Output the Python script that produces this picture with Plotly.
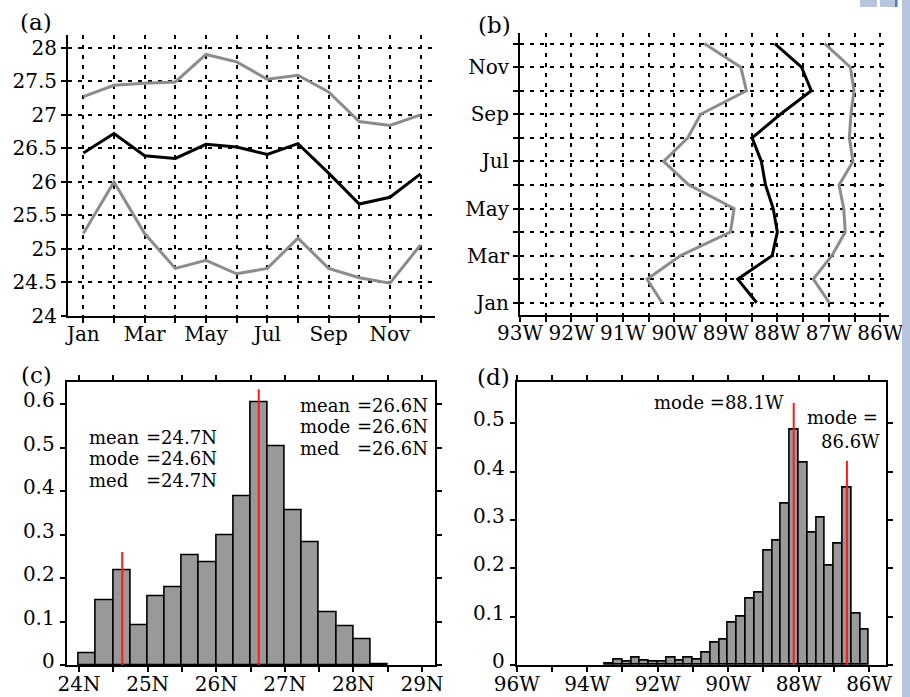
import plotly.graph_objects as go

W, H = 910, 697
FONT = "DejaVu Serif"

# ---------------- data ----------------
months = list(range(1, 13))
month_labels = ["Jan", "", "Mar", "", "May", "", "Jul", "", "Sep", "", "Nov", ""]

# (a) latitude (N) by month
a_upper = [27.27, 27.44, 27.47, 27.49, 27.90, 27.79, 27.53, 27.59, 27.34, 26.90, 26.84, 27.00]
a_mid = [26.43, 26.72, 26.39, 26.35, 26.56, 26.52, 26.41, 26.57, 26.13, 25.67, 25.77, 26.12]
a_lower = [25.23, 26.00, 25.23, 24.71, 24.83, 24.63, 24.71, 25.16, 24.71, 24.57, 24.49, 25.06]

# (b) longitude (W) by month
b_west = [90.24, 90.53, 89.88, 88.91, 88.84, 89.72, 90.21, 89.74, 89.49, 88.60, 88.71, 89.42]
b_mid = [88.40, 88.77, 88.10, 88.00, 88.08, 88.23, 88.31, 88.49, 87.94, 87.34, 87.53, 88.05]
b_east = [86.99, 87.30, 86.94, 86.68, 86.71, 86.80, 86.53, 86.60, 86.57, 86.51, 86.58, 87.08]

# (c) latitude histogram, bins of 0.25 deg starting at 24N
c_start, c_width = 24.0, 0.25
c_freq = [0.028, 0.149, 0.217, 0.092, 0.157, 0.178, 0.252, 0.235, 0.299, 0.389,
          0.604, 0.502, 0.356, 0.283, 0.122, 0.090, 0.060, 0.002]
c_modes = [24.63, 26.62]
c_mode_tops = [0.26, 0.634]

# (d) longitude histogram, bins of 0.25 deg starting at 93.5W going east
d_start, d_width = 93.5, 0.25
d_freq = [0.003, 0.012, 0.006, 0.0145, 0.008, 0.007, 0.006, 0.016, 0.009, 0.016,
          0.012, 0.026, 0.047, 0.052, 0.088, 0.099, 0.137, 0.150, 0.236, 0.257,
          0.333, 0.487, 0.419, 0.273, 0.304, 0.206, 0.250, 0.366, 0.106, 0.072]
d_modes = [88.14, 86.63]
d_mode_tops = [0.542, 0.422]

a_yticks = [24, 24.5, 25, 25.5, 26, 26.5, 27, 27.5, 28]
b_xticks = [93, 92.5, 92, 91.5, 91, 90.5, 90, 89.5, 89, 88.5, 88, 87.5, 87, 86.5, 86]
c_xticks = [24, 24.5, 25, 25.5, 26, 26.5, 27, 27.5, 28, 28.5, 29]
c_yticks = [0, 0.1, 0.2, 0.3, 0.4, 0.5, 0.6]
d_xticks = [96, 95, 94, 93, 92, 91, 90, 89, 88, 87, 86]
d_yticks = [0, 0.1, 0.2, 0.3, 0.4, 0.5]

GRAY = "#8c8c8c"
BAR = "#999999"


def fx(p):
    return p / W


def fy(p):
    return 1 - p / H


def fmt(v):
    return f"{v:g}"


fig = go.Figure()

# (a)
for ys, col in [(a_upper, GRAY), (a_mid, "black"), (a_lower, GRAY)]:
    fig.add_trace(go.Scatter(x=months, y=ys, mode="lines", line=dict(color=col, width=3),
                             xaxis="x", yaxis="y", showlegend=False))
# (b)
for xs, col in [(b_west, GRAY), (b_mid, "black"), (b_east, GRAY)]:
    fig.add_trace(go.Scatter(x=xs, y=months, mode="lines", line=dict(color=col, width=3),
                             xaxis="x2", yaxis="y2", showlegend=False))
# (c)
c_centers = [c_start + c_width * (i + 0.5) for i in range(len(c_freq))]
fig.add_trace(go.Bar(x=c_centers, y=c_freq, width=c_width,
                     marker=dict(color=BAR, line=dict(color="black", width=1.6)),
                     xaxis="x3", yaxis="y3", showlegend=False))
for m, t in zip(c_modes, c_mode_tops):
    fig.add_trace(go.Scatter(x=[m, m], y=[0, t], mode="lines", line=dict(color="#ff1a1a", width=2),
                             xaxis="x3", yaxis="y3", showlegend=False))
# (d)
d_centers = [d_start - d_width * (i + 0.5) for i in range(len(d_freq))]
fig.add_trace(go.Bar(x=d_centers, y=d_freq, width=d_width,
                     marker=dict(color=BAR, line=dict(color="black", width=1.6)),
                     xaxis="x4", yaxis="y4", showlegend=False))
for m, t in zip(d_modes, d_mode_tops):
    fig.add_trace(go.Scatter(x=[m, m], y=[0, t], mode="lines", line=dict(color="#ff1a1a", width=2),
                             xaxis="x4", yaxis="y4", showlegend=False))

tickfont = dict(family=FONT, size=20, color="black")
grid = dict(showgrid=True, gridcolor="black", gridwidth=1.5, griddash="4px,6px")
common = dict(showline=True, linecolor="black", linewidth=2, ticks="outside", ticklen=5,
              tickwidth=1.5, tickcolor="black", zeroline=False, tickfont=tickfont,
              automargin=False)
xshift = dict(ticklabelstandoff=-6)
xshift_h = dict(ticklabelstandoff=-5)
yshift_h = dict(ticklabelstandoff=1, ticklabelshift=-4)

fig.update_layout(
    width=W, height=H, margin=dict(l=0, r=0, t=0, b=0, autoexpand=False),
    paper_bgcolor="white", plot_bgcolor="rgba(0,0,0,0)",
    showlegend=False, bargap=0,
    font=dict(family=FONT, color="black"),
    xaxis=dict(domain=[fx(68), fx(435)], range=[0.5, 12.47], tickvals=months, ticktext=month_labels,
               anchor="y", **grid, **common, **xshift),
    yaxis=dict(domain=[fy(316), fy(35)], range=[24, 28.19], tickvals=a_yticks,
               ticktext=[fmt(v) for v in a_yticks], anchor="x", **grid, **common),
    xaxis2=dict(domain=[fx(520), fx(889)], range=[93, 85.83], tickvals=b_xticks,
                ticktext=[f"{int(v)}W" if v == int(v) else "" for v in b_xticks],
                anchor="y2", **grid, **common, **xshift),
    yaxis2=dict(domain=[fy(315), fy(33)], range=[0.48, 12.45], tickvals=months, ticktext=month_labels,
                anchor="x2", **grid, **common),
    xaxis3=dict(domain=[fx(66.7), fx(435)], range=[23.82, 29.19], tickvals=c_xticks,
                ticktext=[f"{int(v)}N" if v == int(v) else "" for v in c_xticks],
                anchor="y3", mirror="allticks", showgrid=False, **common, **xshift_h),
    yaxis3=dict(domain=[fy(665), fy(382.3)], range=[0, 0.65], tickvals=c_yticks,
                ticktext=[fmt(v) for v in c_yticks], anchor="x3", mirror="allticks", showgrid=False,
                **common, **yshift_h),
    xaxis4=dict(domain=[fx(516.7), fx(885.7)], range=[96, 85.53], tickvals=d_xticks,
                ticktext=[f"{v}W" if v % 2 == 0 else "" for v in d_xticks],
                anchor="y4", mirror="allticks", showgrid=False, **common, **xshift_h),
    yaxis4=dict(domain=[fy(665), fy(381.7)], range=[0, 0.586], tickvals=d_yticks,
                ticktext=[fmt(v) for v in d_yticks], anchor="x4", mirror="allticks", showgrid=False,
                **common, **yshift_h),
)

ann = []


def text(x, y, s, size=18, xanchor="left"):
    ann.append(dict(x=fx(x), y=fy(y), xref="paper", yref="paper", text=s, showarrow=False,
                    xanchor=xanchor, yanchor="middle", font=dict(family=FONT, size=size, color="black")))


text(36, 22, "(a)", 23, "center")
text(495, 25, "(b)", 23, "center")
text(36, 375, "(c)", 23, "center")
text(494, 377, "(d)", 23, "center")

c_left_vals = ["=24.7N", "=24.6N", "=24.7N"]
c_right_vals = ["=26.6N", "=26.6N", "=26.6N"]
names = ["mean", "mode", "med"]
for i, (n, v) in enumerate(zip(names, c_left_vals)):
    yy = [437, 458.5, 480][i]
    text(86.7, yy, n)
    text(144, yy, v)
for i, (n, v) in enumerate(zip(names, c_right_vals)):
    yy = [405, 426.7, 448.3][i]
    text(297.7, yy, n)
    text(355, yy, v)

text(786, 402, "mode =88.1W", 18, "right")
text(880, 417, "mode =", 18, "right")
text(882, 441, "86.6W", 18, "right")

fig.update_layout(annotations=ann)

# page artefact: light blue strip at the right edge
shapes = [
    dict(type="rect", xref="paper", yref="paper", x0=fx(902), x1=1, y0=0, y1=1,
         fillcolor="#b7c6de", line=dict(width=0), layer="above"),
    dict(type="rect", xref="paper", yref="paper", x0=fx(860), x1=fx(877), y0=fy(7), y1=1,
         fillcolor="#b7c6de", line=dict(width=0), layer="above"),
    dict(type="rect", xref="paper", yref="paper", x0=fx(880), x1=fx(895), y0=fy(7), y1=1,
         fillcolor="#b7c6de", line=dict(width=0), layer="above"),
    dict(type="rect", xref="paper", yref="paper", x0=fx(895), x1=fx(897.5), y0=fy(7), y1=1,
         fillcolor="#4a7cc0", line=dict(width=0), layer="above"),
]
fig.update_layout(shapes=shapes)

fig.write_html("out.html")
